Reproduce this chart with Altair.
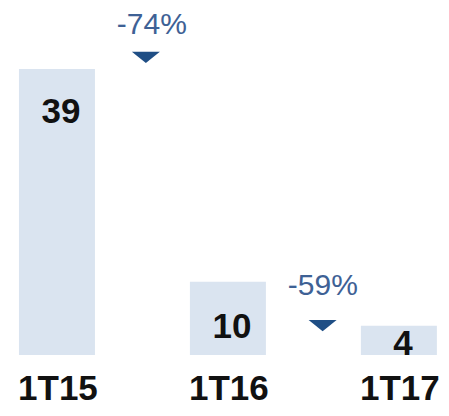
import altair as alt
import pandas as pd

# Data
categories = ["1T15", "1T16", "1T17"]
values = [39, 10, 4]
changes = ["-74%", "-59%"]
change_text_y = [45.0, 9.4]
change_marker_y = [40.6, 4.0]

bars_df = pd.DataFrame({"idx": list(range(len(categories))), "cat": categories, "value": values})
ann_df = pd.DataFrame({
    "idx": [0, 1],
    "label": changes,
    "ty": change_text_y,
    "my": change_marker_y,
})

x_scale = alt.Scale(domain=[-0.2571, 2.2171], nice=False, zero=False)
y_scale = alt.Scale(domain=[-7.23, 47.32], nice=False, zero=False)

base = alt.Chart(bars_df)

bars = base.mark_bar(size=76, color="#DAE4F0").encode(
    x=alt.X("idx:Q", scale=x_scale, axis=None),
    y=alt.Y("value:Q", scale=y_scale, axis=None),
    y2=alt.datum(0),
)

bar_labels = base.transform_calculate(
    ly="datum.value > 20 ? datum.value - 5.8 : datum.value * 0.38"
).mark_text(
    font="Liberation Sans", fontSize=35, fontWeight="bold", color="#111111",
    baseline="middle", dx=4,
).encode(
    x=alt.X("idx:Q", scale=x_scale),
    y=alt.Y("ly:Q", scale=y_scale),
    text="value:Q",
)

cat_labels = base.transform_calculate(
    ly="-4.6"
).mark_text(
    font="Liberation Sans", fontSize=35, fontWeight="bold", color="#111111",
    baseline="middle", dx=1,
).encode(
    x=alt.X("idx:Q", scale=x_scale),
    y=alt.Y("ly:Q", scale=y_scale),
    text="cat:N",
)

ann = alt.Chart(ann_df).transform_calculate(
    tx="datum.idx + 0.555",
    mx="datum.idx + 0.52 + 0.034 * datum.idx",
)

ann_text = ann.mark_text(
    font="Liberation Sans", fontSize=30, color="#3E6195", baseline="middle",
).encode(
    x=alt.X("tx:Q", scale=x_scale),
    y=alt.Y("ty:Q", scale=y_scale),
    text="label:N",
)

ann_marker = ann.mark_point(
    shape="M-1,-0.4L1,-0.4L0,0.4Z", size=784, filled=True, opacity=1,
    color="#1F4E85", strokeWidth=0,
).encode(
    x=alt.X("mx:Q", scale=x_scale),
    y=alt.Y("my:Q", scale=y_scale),
)

chart = alt.layer(bars, bar_labels, cat_labels, ann_marker, ann_text).properties(
    width=433, height=400, padding=0,
    autosize=alt.AutoSizeParams(type="none"),
).configure_view(stroke=None)

chart.save("out.html", embed_options={"renderer": "svg", "actions": False})
